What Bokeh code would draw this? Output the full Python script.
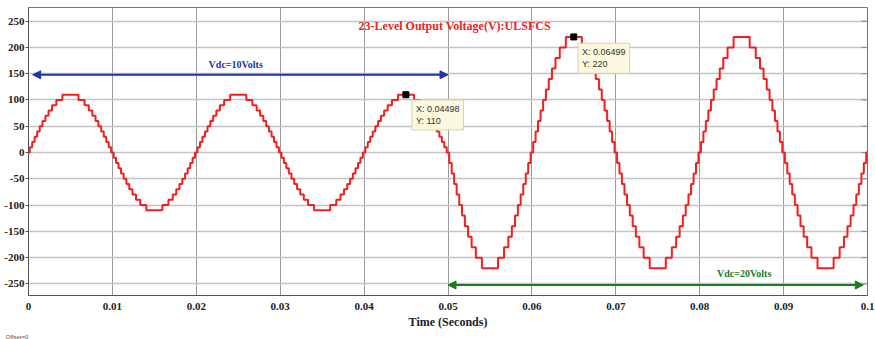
from bokeh.plotting import figure
from bokeh.models import Range1d, FixedTicker, Label, Arrow, NormalHead, Title
from bokeh.embed import file_html
from bokeh.resources import INLINE

# ---- data ----
# switching instants (ms) of the staircase within the first quarter period (level k reached at t_k)
quarter_switch_ms = [0.15, 0.44, 0.73, 1.03, 1.34, 1.67, 2.01, 2.39, 2.81, 3.32, 4.04]
period_ms = 20.0
n_periods = 5
segment_start_ms = [0.0, 50.0]      # Vdc changes at 0.05 s
segment_step_volts = [10, 20]       # volts per level (Vdc = 10 V, then 20 V)
end_ms = 100.0

x_ticks = [0, 0.01, 0.02, 0.03, 0.04, 0.05, 0.06, 0.07, 0.08, 0.09, 0.1]
x_tick_labels = ["0", "0.01", "0.02", "0.03", "0.04", "0.05", "0.06", "0.07", "0.08", "0.09", "0.1"]
y_ticks = [-250, -200, -150, -100, -50, 0, 50, 100, 150, 200, 250]
y_tick_labels = ["-250", "-200", "-150", "-100", "-50", "0", "50", "100", "150", "200", "250"]

tip_points_x = [0.04498, 0.06499]
tip_points_y = [110, 220]
tip_texts = ["X: 0.04498\nY: 110", "X: 0.06499\nY: 220"]

title_text = "23-Level Output Voltage(V):ULSFCS"
vdc1_text = "Vdc=10Volts"
vdc2_text = "Vdc=20Volts"
offset_text = "Offset=0"

# ---- build the staircase from the read switching instants (quarter-wave symmetry) ----
half = period_ms / 2
events = []  # (time_ms, level index)
for per in range(n_periods):
    base = per * period_ms
    for k, t in enumerate(quarter_switch_ms, start=1):
        events.append((base + t, k))
    for k, t in reversed(list(enumerate(quarter_switch_ms, start=1))):
        events.append((base + half - t, k - 1))
    for k, t in enumerate(quarter_switch_ms, start=1):
        events.append((base + half + t, -k))
    for k, t in reversed(list(enumerate(quarter_switch_ms, start=1))):
        events.append((base + period_ms - t, -(k - 1)))
events.sort()

def step_volts(t):
    v = segment_step_volts[0]
    for s, sv in zip(segment_start_ms, segment_step_volts):
        if t >= s:
            v = sv
    return v

xs = [0.0]
ys = [0.0]
for t, lev in events:
    xs.append(t / 1000.0)
    ys.append(lev * step_volts(t))
xs.append(end_ms / 1000.0)
ys.append(ys[-1])

# ---- figure ----
p = figure(width=875, height=339, output_backend="svg", toolbar_location=None,
           x_range=Range1d(0, 0.1), y_range=Range1d(-272, 276),
           min_border_left=28, min_border_right=8, min_border_top=7, min_border_bottom=0)
p.background_fill_color = "white"
p.border_fill_color = "white"
p.outline_line_color = "#777777"
p.outline_line_width = 1

p.xaxis.ticker = FixedTicker(ticks=x_ticks)
p.xaxis.major_label_overrides = {t: l for t, l in zip(x_ticks, x_tick_labels)}
p.yaxis.ticker = FixedTicker(ticks=y_ticks)
p.yaxis.major_label_overrides = {t: l for t, l in zip(y_ticks, y_tick_labels)}

for ax in (p.xaxis, p.yaxis):
    ax.major_label_text_font = "Liberation Serif"
    ax.major_label_text_font_style = "bold"
    ax.major_label_text_font_size = "11px"
    ax.major_label_text_color = "#222222"
    ax.axis_line_color = "#555555"
    ax.major_tick_line_color = "#555555"
    ax.minor_tick_line_color = None
    ax.major_tick_in = 0

p.yaxis.major_tick_out = 3
p.yaxis.major_label_standoff = 1
p.xaxis.major_tick_out = 0
p.xaxis.major_label_standoff = 7

p.xaxis.axis_label = "Time (Seconds)"
p.xaxis.axis_label_text_font = "Liberation Serif"
p.xaxis.axis_label_text_font_style = "bold"
p.xaxis.axis_label_text_font_size = "12px"
p.xaxis.axis_label_text_color = "#222222"
p.xaxis.axis_label_standoff = 2

p.add_layout(Title(text=offset_text, align="left", offset=-23, standoff=0,
                   text_font="Liberation Sans", text_font_size="6px",
                   text_font_style="normal", text_color="#555555"), "below")

p.xgrid.grid_line_color = "#9a9a9a"
p.xgrid.grid_line_width = 1
p.ygrid.grid_line_color = "#c4c4c4"
p.ygrid.grid_line_width = 1.5

# short tick marks on the right border
p.scatter([0.1] * len(y_ticks), y_ticks, marker="dash", size=12, line_color="#888888", line_width=1)

# waveform
p.step(xs, ys, mode="after", line_color="#f21f1f", line_width=2)

# arrows
p.add_layout(Arrow(start=NormalHead(size=8, fill_color="#2233aa", line_color="#2233aa"),
                   end=NormalHead(size=8, fill_color="#2233aa", line_color="#2233aa"),
                   x_start=0.0005, y_start=148, x_end=0.05, y_end=148,
                   line_color="#2233aa", line_width=2))
p.add_layout(Arrow(start=NormalHead(size=8, fill_color="#1d7a1d", line_color="#1d7a1d"),
                   end=NormalHead(size=8, fill_color="#1d7a1d", line_color="#1d7a1d"),
                   x_start=0.05, y_start=-252, x_end=0.0995, y_end=-252,
                   line_color="#1d7a1d", line_width=2))

p.add_layout(Label(x=0.0247, y=168, text=vdc1_text, text_font="Liberation Serif",
                   text_font_style="bold", text_font_size="10px", text_color="#2233aa",
                   text_align="center", text_baseline="middle"))
p.add_layout(Label(x=0.0853, y=-231, text=vdc2_text, text_font="Liberation Serif",
                   text_font_style="bold", text_font_size="10px", text_color="#1d7a1d",
                   text_align="center", text_baseline="middle"))

p.add_layout(Label(x=0.0508, y=240, text=title_text, text_font="Liberation Serif",
                   text_font_style="bold", text_font_size="12px", text_color="#ee2222",
                   text_align="center", text_baseline="middle"))

# data tips
p.scatter(tip_points_x, tip_points_y, marker="square", size=6, fill_color="black", line_color="black")
tip_box_x = [0.0457, 0.0655]
tip_box_y = [100, 208]
for bx, by, txt in zip(tip_box_x, tip_box_y, tip_texts):
    p.add_layout(Label(x=bx, y=by, text=txt, text_font="Liberation Sans",
                       text_font_size="9px", text_color="#333333",
                       text_align="left", text_baseline="top",
                       background_fill_color="#fbf8df", background_fill_alpha=1.0,
                       border_line_color="#d8d4b0", padding=4))

open("out.html", "w").write(file_html(p, INLINE))
